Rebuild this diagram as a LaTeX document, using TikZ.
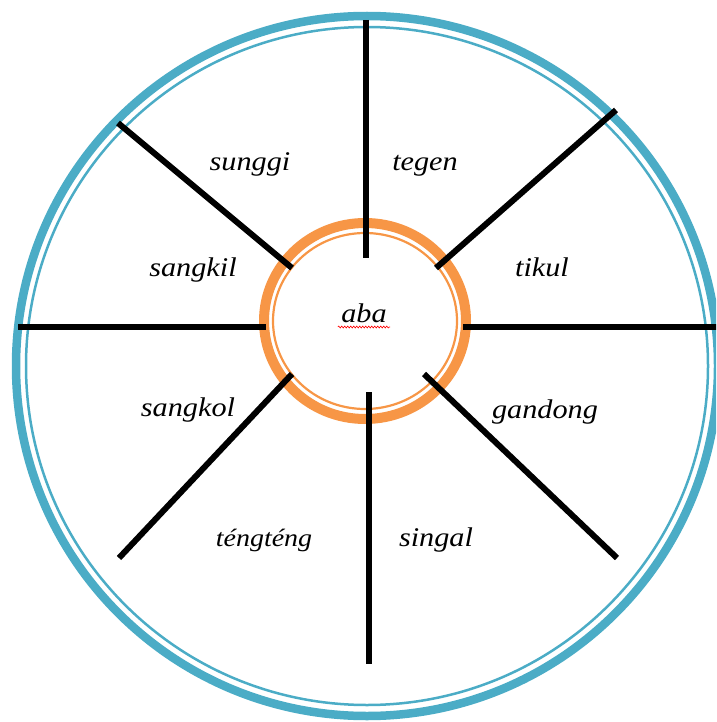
\documentclass[tikz,border=0pt]{standalone}
\usepackage{fontspec}
\newfontfamily\wordfont[FakeStretch=1.12]{Liberation Serif Italic}
\usetikzlibrary{decorations.pathmorphing}
\definecolor{ringblue}{HTML}{4BACC6}
\definecolor{ringorange}{HTML}{F79646}

\begin{document}
\begin{tikzpicture}[x=1pt,y=-1pt,
    spoke/.style={line width=6pt},
    word/.style={anchor=base,font=\wordfont\fontsize{27}{31}\selectfont}]
        \clip (0,0) rectangle (716,722);
        \useasboundingbox (0,0) rectangle (716,722);
        % outer ring
        \draw[ringblue,line width=8.5pt] (367,366) ellipse [x radius=351,y radius=350];
        \draw[ringblue,line width=2.5pt] (367,366) ellipse [x radius=341,y radius=339];
        % inner ring
        \draw[ringorange,line width=10pt] (365,321) ellipse [x radius=101,y radius=98];
        \draw[ringorange,line width=2.2pt] (365,321) ellipse [x radius=92,y radius=88];
        % spokes
        \draw[spoke] (366,20) -- (366,258);
        \draw[spoke] (369,392) -- (369,664);
        \draw[spoke] (18,327) -- (266,327);
        \draw[spoke] (463,327) -- (720,327);
        \draw[spoke] (118,123) -- (292,268);
        \draw[spoke] (616,110) -- (436,268);
        \draw[spoke] (292,374) -- (119,558);
        \draw[spoke] (424,374) -- (617,558);
        % words
        \node[word] (aba) at (364,322) {aba};
        \node[word] (sunggi) at (250,171) {sunggi};
        \node[word] (tegen) at (425,171) {tegen};
        \node[word] (sangkil) at (193,276) {sangkil};
        \node[word] (tikul) at (542,276) {tikul};
        \node[word] (sangkol) at (188,416) {sangkol};
        \node[word] (gandong) at (545,418) {gandong};
        \node[word,font=\wordfont\fontsize{25}{29}\selectfont] (tengteng) at (264,546) {téngténg};
        \node[word] (singal) at (436,546) {singal};
        \draw[red,line width=0.6pt,decorate,decoration={snake,amplitude=1pt,segment length=3pt}]
            ([yshift=-5pt]aba.base west) -- ([yshift=-5pt]aba.base east);
      \end{tikzpicture}
\end{document}
